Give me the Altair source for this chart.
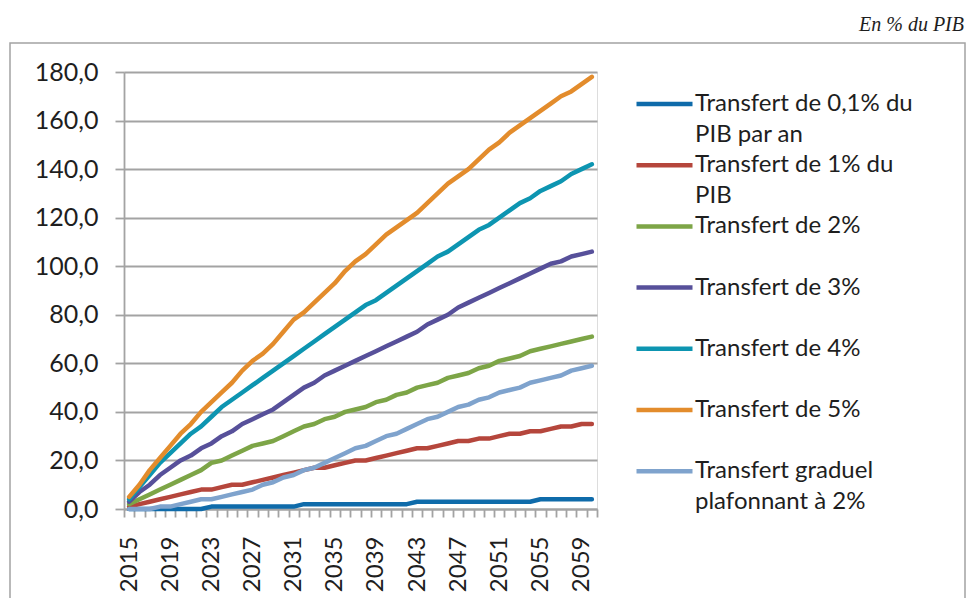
import altair as alt
import pandas as pd

years = list(range(2015, 2061))

series = [
    "Transfert de 0,1% du\nPIB par an",
    "Transfert de 1% du\nPIB",
    "Transfert de 2%",
    "Transfert de 3%",
    "Transfert de 4%",
    "Transfert de 5%",
    "Transfert graduel\nplafonnant à 2%",
]

v_01 = [0, 0, 0, 0, 0, 0, 0, 0, 1, 1, 1, 1, 1, 1, 1, 1, 1, 2, 2, 2, 2, 2, 2,
        2, 2, 2, 2, 2, 3, 3, 3, 3, 3, 3, 3, 3, 3, 3, 3, 3, 4, 4, 4, 4, 4, 4]
v_1 = [1, 2, 3, 4, 5, 6, 7, 8, 8, 9, 10, 10, 11, 12, 13, 14, 15, 16, 17, 17, 18, 19, 20,
       20, 21, 22, 23, 24, 25, 25, 26, 27, 28, 28, 29, 29, 30, 31, 31, 32, 32, 33, 34, 34, 35, 35]
v_2 = [2, 4, 6, 8, 10, 12, 14, 16, 19, 20, 22, 24, 26, 27, 28, 30, 32, 34, 35, 37, 38, 40, 41,
       42, 44, 45, 47, 48, 50, 51, 52, 54, 55, 56, 58, 59, 61, 62, 63, 65, 66, 67, 68, 69, 70, 71]
v_3 = [3, 7, 10, 14, 17, 20, 22, 25, 27, 30, 32, 35, 37, 39, 41, 44, 47, 50, 52, 55, 57, 59, 61,
       63, 65, 67, 69, 71, 73, 76, 78, 80, 83, 85, 87, 89, 91, 93, 95, 97, 99, 101, 102, 104, 105, 106]
v_4 = [4, 9, 14, 19, 23, 27, 31, 34, 38, 42, 45, 48, 51, 54, 57, 60, 63, 66, 69, 72, 75, 78, 81,
       84, 86, 89, 92, 95, 98, 101, 104, 106, 109, 112, 115, 117, 120, 123, 126, 128, 131, 133, 135, 138, 140, 142]
v_5 = [5, 10, 16, 21, 26, 31, 35, 40, 44, 48, 52, 57, 61, 64, 68, 73, 78, 81, 85, 89, 93, 98, 102,
       105, 109, 113, 116, 119, 122, 126, 130, 134, 137, 140, 144, 148, 151, 155, 158, 161, 164, 167, 170, 172, 175, 178]
v_grad = [0, 0, 0, 1, 1, 2, 3, 4, 4, 5, 6, 7, 8, 10, 11, 13, 14, 16, 17, 19, 21, 23, 25,
          26, 28, 30, 31, 33, 35, 37, 38, 40, 42, 43, 45, 46, 48, 49, 50, 52, 53, 54, 55, 57, 58, 59]

colors = ["#0F6BAA", "#B5463C", "#7DA547", "#57509A", "#0D95B1", "#E38C2C", "#7FA3CD"]
y_ticks = [0, 20, 40, 60, 80, 100, 120, 140, 160, 180]
unit_label = ["En % du PIB"]

all_vals = [v_01, v_1, v_2, v_3, v_4, v_5, v_grad]
rows = []
for name, vals in zip(series, all_vals):
    for yr, v in zip(years, vals):
        rows.append({"annee": yr, "serie": name, "valeur": v})
df = pd.DataFrame(rows)

GRAY = "#A3A3A3"
TXT = "#1E1E1E"
FONT = "Lato"

lines = alt.Chart(df).mark_line(strokeWidth=4.5, strokeCap="round", strokeJoin="round").encode(
    x=alt.X(
        "annee:O",
        bandPosition=0.5,
        scale=alt.Scale(type="band", paddingInner=0, paddingOuter=0),
        axis=alt.Axis(
            title=None,
            labelAngle=270,
            labelAlign="right",
            labelBaseline="middle",
            labelExpr="(toNumber(datum.value) - 2015) % 4 == 0 ? datum.label : ''",
            labelOverlap=False,
            labelFont=FONT,
            labelFontSize=24,
            labelColor=TXT,
            labelPadding=19,
            tickBand="extent",
            tickSize=8,
            tickColor=GRAY,
            tickWidth=1.8,
            domainColor=GRAY,
            domainWidth=1.8,
            grid=False,
        ),
    ),
    y=alt.Y(
        "valeur:Q",
        scale=alt.Scale(domain=[0, 180], nice=False),
        axis=alt.Axis(
            title=None,
            values=y_ticks,
            labelExpr="replace(format(datum.value, '.1f'), '.', ',')",
            labelFont=FONT,
            labelFontSize=25,
            labelColor=TXT,
            labelPadding=17,
            tickSize=9,
            tickColor=GRAY,
            tickWidth=1.8,
            domainColor=GRAY,
            domainWidth=1.8,
            grid=True,
            gridColor=GRAY,
            gridWidth=1.8,
        ),
    ),
    color=alt.Color(
        "serie:N",
        sort=series,
        scale=alt.Scale(domain=series, range=colors),
        legend=alt.Legend(
            title=None,
            orient="none",
            legendX=510,
            legendY=17,
            padding=0,
            symbolType="stroke",
            symbolSize=3136,
            symbolStrokeWidth=4.5,
            labelFont=FONT,
            labelFontSize=24,
            labelColor=TXT,
            labelOffset=0,
            labelLimit=400,
            labelExpr="indexof(datum.label, '\\n') >= 0 ? split(datum.label, '\\n') : [datum.label, ' ']",
            clipHeight=30,
            rowPadding=3.2,
        ),
    ),
)

frame = alt.Chart(pd.DataFrame({"cadre": [0]})).mark_rect(
    filled=False, stroke=GRAY, strokeWidth=1.5
).encode(
    x=alt.value(-114), x2=alt.value(841), y=alt.value(-29), y2=alt.value(560)
)

unit = alt.Chart(pd.DataFrame({"unite": unit_label})).mark_text(
    align="right", baseline="middle", font="Liberation Serif", fontStyle="italic",
    fontSize=20, color=TXT
).encode(x=alt.value(840), y=alt.value(-47), text="unite:N")

chart = alt.layer(frame, lines, unit).properties(
    width=473,
    height=437,
    autosize=alt.AutoSizeParams(type="none"),
    padding={"left": 116, "top": 64, "right": 369, "bottom": 89},
).configure_view(stroke=None).configure(
    style={"guide-label": {"lineHeight": 31}}
)

chart.save("out.html", embed_options={"renderer": "svg", "actions": False})
